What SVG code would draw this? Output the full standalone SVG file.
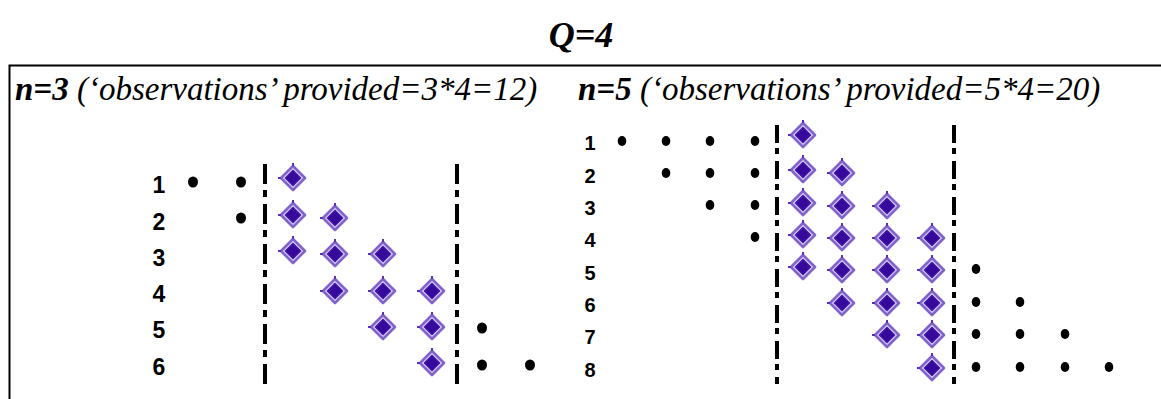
<svg xmlns="http://www.w3.org/2000/svg" xmlns:xlink="http://www.w3.org/1999/xlink" width="1161" height="399" viewBox="0 0 1161 399">
<defs>
<style>
.ttl{font-family:"Liberation Serif","Times New Roman",serif;font-style:italic;font-weight:bold;font-size:36px;fill:#000}
.hdr{font-family:"Liberation Serif","Times New Roman",serif;font-style:italic;font-size:33px;fill:#000}
.hdr .b{font-weight:bold}
.lblL{font-family:"Liberation Sans",Arial,sans-serif;font-weight:bold;font-size:23px;fill:#000;text-anchor:middle}
.lblR{font-family:"Liberation Sans",Arial,sans-serif;font-weight:bold;font-size:20px;fill:#000;text-anchor:middle}
.dL{stroke:#000;stroke-width:4;fill:none;stroke-dasharray:20 6 7 7}
.dR{stroke:#000;stroke-width:4;fill:none;stroke-dasharray:18 5 6 7}
</style>
<g id="dm">
<path d="M0,-12 L12,0 L0,12 L-12,0 Z" fill="#ddd2f6" stroke="#8163cc" stroke-width="2.6" stroke-linejoin="round"/>
<path d="M0,-7.5 L7.5,0 L0,7.5 L-7.5,0 Z" fill="#36089c" stroke="#3f14a4" stroke-width="1.5" stroke-linejoin="round"/>
<rect x="-1" y="-15" width="2" height="3" fill="#5b30b8"/>
<rect x="-15" y="-1" width="3" height="2" fill="#5b30b8"/>
</g>
<ellipse id="dtL" cx="0" cy="0" rx="5" ry="5.6" fill="#000"/>
<ellipse id="dtR" cx="0" cy="0" rx="4.3" ry="5" fill="#000"/>
</defs>
<rect width="1161" height="399" fill="#fff"/>
<text class="ttl" x="581" y="47" text-anchor="middle">Q=4</text>
<rect x="9.5" y="65.5" width="1200" height="400" fill="none" stroke="#000" stroke-width="2"/>
<text class="hdr" x="15" y="100"><tspan class="b">n=3</tspan> (‘observations’ provided=3*4=12)</text>
<text class="hdr" x="578" y="100"><tspan class="b">n=5</tspan> (‘observations’ provided=5*4=20)</text>
<g id="left-panel">
<g id="left-labels">
<text class="lblL" x="159" y="193">1</text>
<text class="lblL" x="159" y="230">2</text>
<text class="lblL" x="159" y="266">3</text>
<text class="lblL" x="159" y="302">4</text>
<text class="lblL" x="159" y="338">5</text>
<text class="lblL" x="159" y="375">6</text>
</g>
<g id="left-dots">
<use xlink:href="#dtL" x="193" y="182"/>
<use xlink:href="#dtL" x="241" y="182"/>
<use xlink:href="#dtL" x="241" y="218"/>
<use xlink:href="#dtL" x="482" y="328"/>
<use xlink:href="#dtL" x="482" y="365"/>
<use xlink:href="#dtL" x="530" y="365"/>
</g>
<g id="left-diamonds">
<use xlink:href="#dm" x="293" y="178"/>
<use xlink:href="#dm" x="293" y="215"/>
<use xlink:href="#dm" x="335" y="218"/>
<use xlink:href="#dm" x="293" y="251"/>
<use xlink:href="#dm" x="335" y="254"/>
<use xlink:href="#dm" x="383" y="254"/>
<use xlink:href="#dm" x="335" y="291"/>
<use xlink:href="#dm" x="383" y="291"/>
<use xlink:href="#dm" x="432" y="291"/>
<use xlink:href="#dm" x="383" y="327"/>
<use xlink:href="#dm" x="432" y="327"/>
<use xlink:href="#dm" x="432" y="363"/>
</g>
</g>
<g id="right-panel">
<g id="right-labels">
<text class="lblR" x="590" y="150">1</text>
<text class="lblR" x="590" y="183">2</text>
<text class="lblR" x="590" y="215">3</text>
<text class="lblR" x="590" y="247">4</text>
<text class="lblR" x="590" y="280">5</text>
<text class="lblR" x="590" y="312">6</text>
<text class="lblR" x="590" y="344">7</text>
<text class="lblR" x="590" y="377">8</text>
</g>
<g id="right-dots">
<use xlink:href="#dtR" x="622" y="141"/>
<use xlink:href="#dtR" x="666" y="141"/>
<use xlink:href="#dtR" x="710" y="141"/>
<use xlink:href="#dtR" x="755" y="141"/>
<use xlink:href="#dtR" x="666" y="173"/>
<use xlink:href="#dtR" x="710" y="173"/>
<use xlink:href="#dtR" x="755" y="173"/>
<use xlink:href="#dtR" x="710" y="205"/>
<use xlink:href="#dtR" x="755" y="205"/>
<use xlink:href="#dtR" x="755" y="237"/>
<use xlink:href="#dtR" x="976" y="269"/>
<use xlink:href="#dtR" x="976" y="302"/>
<use xlink:href="#dtR" x="1020" y="302"/>
<use xlink:href="#dtR" x="976" y="334"/>
<use xlink:href="#dtR" x="1020" y="334"/>
<use xlink:href="#dtR" x="1065" y="334"/>
<use xlink:href="#dtR" x="976" y="367"/>
<use xlink:href="#dtR" x="1020" y="367"/>
<use xlink:href="#dtR" x="1065" y="367"/>
<use xlink:href="#dtR" x="1109" y="367"/>
</g>
<g id="right-diamonds">
<use xlink:href="#dm" x="803" y="135"/>
<use xlink:href="#dm" x="803" y="170"/>
<use xlink:href="#dm" x="842" y="173"/>
<use xlink:href="#dm" x="803" y="203"/>
<use xlink:href="#dm" x="842" y="206"/>
<use xlink:href="#dm" x="887" y="206"/>
<use xlink:href="#dm" x="803" y="235"/>
<use xlink:href="#dm" x="842" y="238"/>
<use xlink:href="#dm" x="887" y="238"/>
<use xlink:href="#dm" x="932" y="238"/>
<use xlink:href="#dm" x="803" y="267"/>
<use xlink:href="#dm" x="842" y="270"/>
<use xlink:href="#dm" x="887" y="270"/>
<use xlink:href="#dm" x="932" y="270"/>
<use xlink:href="#dm" x="842" y="303"/>
<use xlink:href="#dm" x="887" y="303"/>
<use xlink:href="#dm" x="932" y="303"/>
<use xlink:href="#dm" x="887" y="335"/>
<use xlink:href="#dm" x="932" y="335"/>
<use xlink:href="#dm" x="932" y="368"/>
</g>
</g>
<g id="connectors">
<line class="dL" x1="265" y1="164" x2="265" y2="384"/>
<line class="dL" x1="457" y1="164" x2="457" y2="384"/>
<line class="dR" x1="777" y1="125" x2="777" y2="384"/>
<line class="dR" x1="954" y1="125" x2="954" y2="384"/>
</g>
</svg>
